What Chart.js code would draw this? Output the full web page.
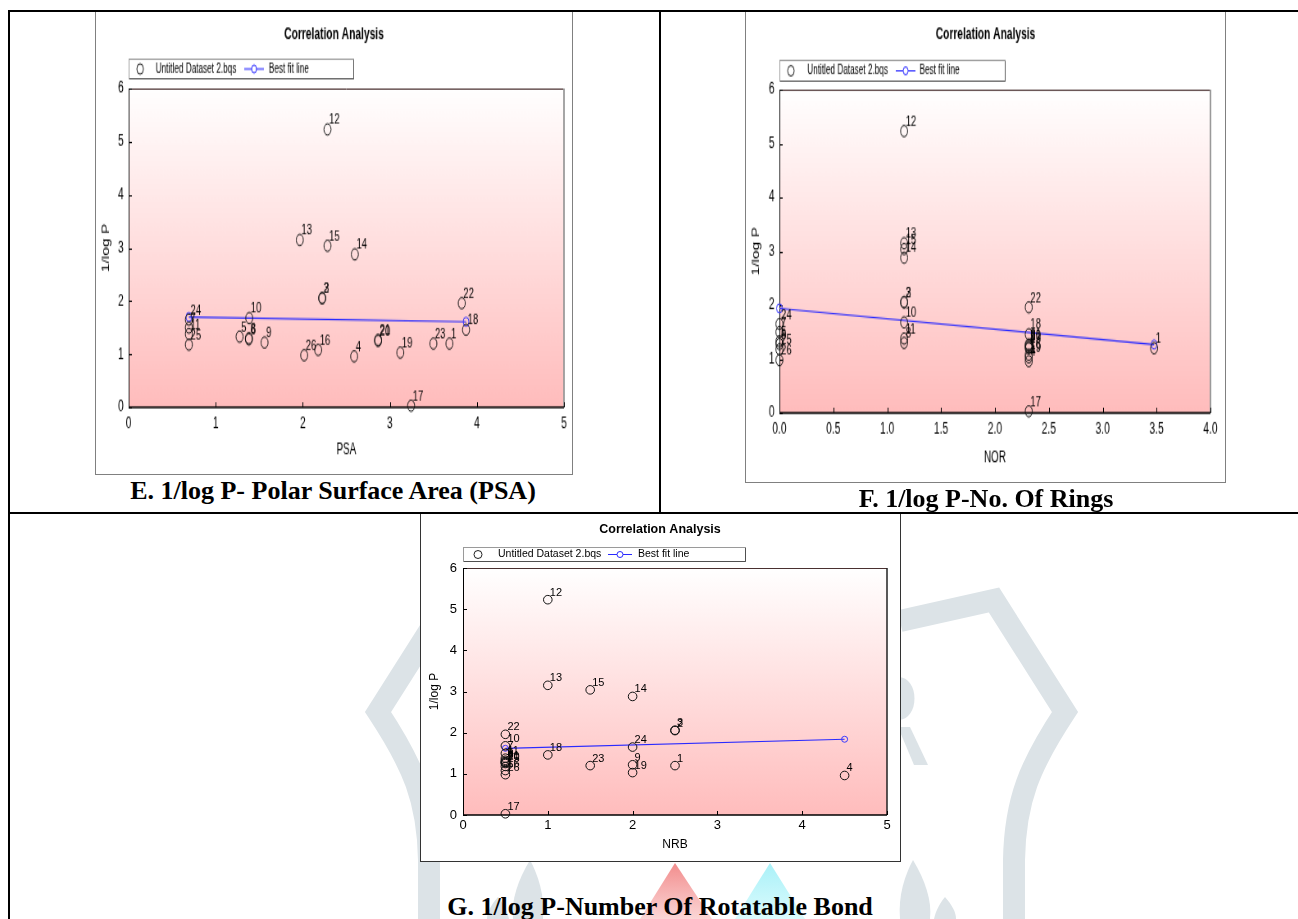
<!DOCTYPE html>
<html><head><meta charset="utf-8">
<script src="https://cdn.jsdelivr.net/npm/chart.js@4.4.1/dist/chart.umd.min.js"></script>
<style>
html,body{margin:0;padding:0;background:#fff;}
body{width:1298px;height:919px;position:relative;overflow:hidden;font-family:Arial,"Liberation Sans",sans-serif;}
.abs{position:absolute;}
.line{position:absolute;background:#000;}
.box{position:absolute;background:#fff;box-sizing:border-box;}
.wrap{position:absolute;transform-origin:0 0;}
.wrap canvas{display:block;}
.cap{position:absolute;font-family:"Times New Roman","Liberation Serif",serif;font-weight:bold;font-size:26px;line-height:30px;white-space:nowrap;text-align:center;color:#000;width:600px;}
</style></head>
<body>
<svg class="abs" style="left:0;top:0" width="1298" height="919">
  <defs>
    <linearGradient id="pk" x1="0" y1="0" x2="0" y2="1"><stop offset="0" stop-color="#f28d8d"/><stop offset="1" stop-color="#fbd6d6"/></linearGradient>
    <linearGradient id="cy" x1="0" y1="0" x2="0" y2="1"><stop offset="0" stop-color="#a9f1f8"/><stop offset="1" stop-color="#dcfbfd"/></linearGradient>
  </defs>
  <g fill="none" stroke="#dce3e7" stroke-width="22">
    <path d="M 900 621 L 994 600 L 1065 712 C 1030 765 1015 800 1014 860 L 1014 925"/>
    <path d="M 543 621 L 449 600 L 378 712 C 413 765 428 800 429 860 L 429 925"/>
  </g>
  <g fill="#dce3e7">
    <path d="M 898 677 C 920 677 920 720 898 720 Z"/>
    <path d="M 898 727 L 910 727 L 928 765 L 914 765 Z"/>
    <path d="M 913 860 C 925 880 932 900 930 919 L 900 919 C 898 895 905 875 913 860 Z"/>
    <path d="M 945 897 C 952 905 956 912 956 919 L 934 919 C 936 910 940 903 945 897 Z"/>
    <path d="M 530 860 C 518 880 511 900 513 919 L 543 919 C 545 895 538 875 530 860 Z"/>
    <path d="M 498 897 C 491 905 487 912 487 919 L 509 919 C 507 910 503 903 498 897 Z"/>
  </g>
  <path d="M 675 863 L 712 919 L 640 919 Z" fill="url(#pk)"/>
  <path d="M 770 863 L 805 919 L 735 919 Z" fill="url(#cy)"/>
</svg>

<div class="line" style="left:8px;top:10px;width:1290px;height:2px;"></div>
<div class="line" style="left:8px;top:10px;width:2px;height:909px;"></div>
<div class="line" style="left:659px;top:10px;width:2px;height:503px;"></div>
<div class="line" style="left:8px;top:512px;width:1290px;height:2px;"></div>

<div class="box" style="left:95px;top:12px;width:478px;height:463px;border:1px solid #808080;border-top:none;"></div>
<div class="box" style="left:745px;top:12px;width:481px;height:471px;border:1px solid #808080;border-top:none;"></div>
<div class="box" style="left:420px;top:514px;width:481px;height:348px;border:1px solid #333;border-top:none;"></div>

<div class="wrap" id="wE" style="left:95px;top:13px;"><canvas id="cE"></canvas></div>
<div class="wrap" id="wF" style="left:745px;top:13px;"><canvas id="cF"></canvas></div>
<div class="wrap" id="wG" style="left:420px;top:513px;"><canvas id="cG"></canvas></div>

<div class="cap" style="left:33px;top:476px;">E. 1/log P- Polar Surface Area (PSA)</div>
<div class="cap" style="left:686px;top:484px;">F. 1/log P-No. Of Rings</div>
<div class="cap" style="left:360px;top:892px;">G. 1/log P-Number Of Rotatable Bond</div>

<script>
// ---------- data ----------
const compoundIds = ['1','2','3','4','5','6','7','8','9','10','11','12','13','14','15','16','17','18','19','20','21','22','23','24','25','26'];
const invLogP = [1.20, 2.05, 2.06, 0.96, 1.33, 1.28, 1.50, 1.30, 1.22, 1.68, 1.38, 5.23, 3.15, 2.88, 3.04, 1.08, 0.03, 1.46, 1.03, 1.25, 1.27, 1.96, 1.20, 1.65, 1.18, 0.98];
const psa = [3.684, 2.223, 2.223, 2.590, 1.274, 1.381, 0.692, 1.381, 1.561, 1.385, 0.692, 2.284, 1.966, 2.598, 2.284, 2.177, 3.244, 3.875, 3.120, 2.865, 2.865, 3.826, 3.500, 0.692, 0.692, 2.016];
const nor = [3.477, 1.157, 1.157, 2.314, 0, 0, 0, 1.157, 2.314, 1.157, 1.157, 1.157, 1.157, 1.157, 1.157, 2.314, 2.314, 2.314, 2.314, 2.314, 2.314, 2.314, 2.314, 0, 0, 0];
const nrb = [2.5, 2.5, 2.5, 4.5, 0.5, 0.5, 0.5, 0.5, 2.0, 0.5, 0.5, 1.0, 1.0, 2.0, 1.5, 0.5, 0.5, 1.0, 2.0, 0.5, 0.5, 0.5, 1.5, 2.0, 0.5, 0.5];
const psaFitX = [0.692, 3.875], psaFitY = [1.70, 1.61];
const norFitX = [0, 3.477],     norFitY = [1.94, 1.27];
const nrbFitX = [0.5, 4.5],     nrbFitY = [1.62, 1.84];
const yTickLabels = ['0','1','2','3','4','5','6'];
const psaTickLabels = ['0','1','2','3','4','5'];
const norTickLabels = ['0.0','0.5','1.0','1.5','2.0','2.5','3.0','3.5','4.0'];
const nrbTickLabels = ['0','1','2','3','4','5'];
const chartTitle = 'Correlation Analysis';
const legendLabels = ['Untitled Dataset 2.bqs', 'Best fit line'];
const yTitle = '1/log P';

const FAM = 'Arial, "Liberation Sans", sans-serif';

const deco = {
  id: 'deco',
  beforeDraw(chart, args, o) {
    const {ctx, chartArea: a} = chart;
    ctx.save();
    const g = ctx.createLinearGradient(0, a.top, 0, a.bottom);
    g.addColorStop(0, '#ffffff');
    g.addColorStop(1, '#ffbcbc');
    ctx.fillStyle = g;
    ctx.fillRect(a.left, a.top, a.right - a.left, a.bottom - a.top);
    ctx.restore();
  },
  beforeDatasetsDraw(chart, args, o) {
    const {ctx, chartArea: a, scales} = chart;
    ctx.save();
    ctx.lineWidth = 1;
    ctx.strokeStyle = '#4a3030';
    ctx.beginPath(); ctx.moveTo(a.left, a.top + 0.5); ctx.lineTo(a.right, a.top + 0.5); ctx.stroke();
    ctx.strokeStyle = o.rightColor; ctx.lineWidth = o.rightWidth;
    ctx.beginPath(); ctx.moveTo(a.right, a.top); ctx.lineTo(a.right, a.bottom); ctx.stroke();
    ctx.strokeStyle = '#000'; ctx.lineWidth = 1;
    ctx.beginPath(); ctx.moveTo(a.left + 0.5, a.top); ctx.lineTo(a.left + 0.5, a.bottom + 1); ctx.stroke();
    ctx.lineWidth = 1.5;
    ctx.beginPath(); ctx.moveTo(a.left, a.bottom); ctx.lineTo(a.right, a.bottom); ctx.stroke();
    ctx.lineWidth = 1;
    scales.x.ticks.forEach(t => {
      const px = Math.round(scales.x.getPixelForValue(t.value)) + 0.5;
      ctx.beginPath(); ctx.moveTo(px, a.bottom); ctx.lineTo(px, a.bottom - 4); ctx.stroke();
    });
    scales.y.ticks.forEach(t => {
      const py = Math.round(scales.y.getPixelForValue(t.value)) + 0.5;
      ctx.beginPath(); ctx.moveTo(a.left, py); ctx.lineTo(a.left + 4, py); ctx.stroke();
    });
    ctx.restore();
  },
  afterDatasetsDraw(chart, args, o) {
    const {ctx} = chart;
    const meta = chart.getDatasetMeta(0);
    ctx.save();
    ctx.fillStyle = '#000';
    ctx.font = o.labelFont + 'px ' + FAM;
    ctx.textAlign = 'left';
    ctx.textBaseline = 'alphabetic';
    meta.data.forEach((pt, i) => {
      ctx.fillText(o.ids[i], pt.x + 2, pt.y - 4);
    });
    ctx.restore();
  },
  afterDraw(chart, args, o) {
    const {ctx, chartArea: a, width} = chart;
    ctx.save();
    ctx.fillStyle = '#000';
    ctx.font = 'bold 12.5px ' + FAM;
    ctx.textAlign = 'center'; ctx.textBaseline = 'middle';
    ctx.fillText(chartTitle, width / 2, o.titleY);
    ctx.font = o.axisFont + 'px ' + FAM;
    ctx.fillText(o.xTitle, (a.left + a.right) / 2, o.xTitleY);
    ctx.save();
    ctx.translate(o.yTitleX, (a.top + a.bottom) / 2);
    ctx.rotate(-Math.PI / 2);
    ctx.fillText(yTitle, 0, 0);
    ctx.restore();
    const L = o.legend;
    ctx.fillStyle = '#fff';
    ctx.fillRect(L.x0, L.y0, L.x1 - L.x0, L.y1 - L.y0);
    ctx.lineWidth = 1;
    ctx.strokeStyle = '#9a9a9a';
    ctx.strokeRect(L.x0 + 0.5, L.y0 + 0.5, L.x1 - L.x0 - 1, L.y1 - L.y0 - 1);
    ctx.strokeStyle = '#505050';
    ctx.beginPath(); ctx.moveTo(L.x0 + 1, L.y1 - 0.5); ctx.lineTo(L.x1 - 0.5, L.y1 - 0.5); ctx.lineTo(L.x1 - 0.5, L.y0 + 1); ctx.stroke();
    const cy = (L.y0 + L.y1) / 2;
    ctx.strokeStyle = '#222';
    ctx.beginPath(); ctx.arc(L.c1, cy, 4, 0, Math.PI * 2); ctx.stroke();
    ctx.fillStyle = '#000';
    ctx.font = o.legendFont + 'px ' + FAM;
    ctx.textAlign = 'left'; ctx.textBaseline = 'middle';
    ctx.fillText(legendLabels[0], L.t1, cy);
    ctx.fillText(legendLabels[1], L.t2, cy);
    ctx.strokeStyle = '#2a2aff';
    ctx.beginPath(); ctx.moveTo(L.l0, cy); ctx.lineTo(L.l1, cy); ctx.stroke();
    ctx.fillStyle = '#fff';
    ctx.beginPath(); ctx.arc((L.l0 + L.l1) / 2, cy, 3, 0, Math.PI * 2); ctx.fill(); ctx.stroke();
    ctx.restore();
  }
};

function makeChart(c) {
  const wrap = document.getElementById(c.wrap);
  const canvas = document.getElementById(c.canvas);
  canvas.width = c.W; canvas.height = c.H;
  wrap.style.width = c.W + 'px'; wrap.style.height = c.H + 'px';
  wrap.style.transform = 'scale(' + c.sx + ',' + c.sy + ')';
  return new Chart(canvas, {
    type: 'scatter',
    data: {
      datasets: [
        {
          label: legendLabels[0],
          data: c.xs.map((x, i) => ({x: x, y: invLogP[i]})),
          showLine: false,
          pointStyle: 'circle',
          pointRadius: c.ptR, pointHoverRadius: c.ptR,
          pointBorderWidth: 1,
          pointBorderColor: '#111',
          pointBackgroundColor: 'rgba(0,0,0,0)',
          clip: false
        },
        {
          label: legendLabels[1],
          data: c.fx.map((x, i) => ({x: x, y: c.fy[i]})),
          showLine: true,
          borderColor: '#2a2aff',
          borderWidth: 1.2,
          pointRadius: c.fitR, pointHoverRadius: c.fitR,
          pointBorderWidth: 1,
          pointBorderColor: '#3a3aff',
          pointBackgroundColor: 'rgba(0,0,0,0)',
          clip: false
        }
      ]
    },
    options: {
      responsive: false,
      animation: false,
      events: [],
      devicePixelRatio: 1,
      layout: {padding: {left: 0, top: c.area.t, right: c.W - c.area.r, bottom: 0}},
      plugins: {
        legend: {display: false},
        title: {display: false},
        tooltip: {enabled: false},
        deco: {
          ids: compoundIds, labelFont: c.labelFont, legendFont: c.legendFont, axisFont: c.axisFont,
          titleY: c.titleY, xTitle: c.xTitle, xTitleY: c.xTitleY, yTitleX: c.yTitleX,
          legend: c.legend, rightColor: c.rightColor, rightWidth: c.rightWidth
        }
      },
      scales: {
        x: {
          type: 'linear', min: 0, max: c.xMax,
          grid: {display: false, drawTicks: false},
          border: {display: false},
          ticks: {
            stepSize: c.xStep, autoSkip: false, maxRotation: 0, padding: c.xPad,
            color: '#000', font: {family: FAM, size: c.tickFont},
            callback: (v) => c.xLabels[Math.round(v / c.xStep)]
          },
          afterFit: (s) => { s.height = c.H - c.area.b; }
        },
        y: {
          type: 'linear', min: 0, max: 6,
          grid: {display: false, drawTicks: false},
          border: {display: false},
          ticks: {
            stepSize: 1, autoSkip: false, padding: 6,
            color: '#000', font: {family: FAM, size: c.tickFont},
            callback: (v) => yTickLabels[Math.round(v)]
          },
          afterFit: (s) => { s.width = c.area.l; }
        }
      }
    },
    plugins: [deco]
  });
}

makeChart({
  wrap: 'wE', canvas: 'cE', W: 583, H: 355, sx: 478 / 583, sy: 462 / 355,
  area: {l: 41, t: 58, r: 572, b: 303},
  xs: psa, fx: psaFitX, fy: psaFitY, fitR: 3.5, ptR: 4.3,
  xMax: 5, xStep: 1, xLabels: psaTickLabels, xPad: 5, tickFont: 12.5,
  labelFont: 11.5, legendFont: 10, axisFont: 12,
  titleY: 17, xTitle: 'PSA', xTitleY: 336, yTitleX: 13.5,
  legend: {x0: 41, y0: 35, x1: 316, y1: 51, c1: 55, t1: 74, l0: 182, l1: 206, t2: 212},
  rightColor: '#9a9a9a', rightWidth: 2
});
makeChart({
  wrap: 'wF', canvas: 'cF', W: 587, H: 362, sx: 481 / 587, sy: 470 / 362,
  area: {l: 42, t: 59, r: 568, b: 308},
  xs: nor, fx: norFitX, fy: norFitY, fitR: 3.5, ptR: 4.3,
  xMax: 4, xStep: 0.5, xLabels: norTickLabels, xPad: 5, tickFont: 12.5,
  labelFont: 11.5, legendFont: 10, axisFont: 12,
  titleY: 17, xTitle: 'NOR', xTitleY: 343, yTitleX: 14,
  legend: {x0: 42, y0: 36, x1: 318, y1: 53, c1: 56, t1: 76, l0: 184, l1: 208, t2: 213},
  rightColor: '#9a9a9a', rightWidth: 2
});
makeChart({
  wrap: 'wG', canvas: 'cG', W: 480, H: 348, sx: 1, sy: 1,
  area: {l: 43, t: 55, r: 467, b: 302},
  xs: nrb, fx: nrbFitX, fy: nrbFitY, fitR: 3, ptR: 4.3,
  xMax: 5, xStep: 1, xLabels: nrbTickLabels, xPad: 3, tickFont: 13,
  labelFont: 11, legendFont: 10.5, axisFont: 12,
  titleY: 17, xTitle: 'NRB', xTitleY: 332, yTitleX: 15,
  legend: {x0: 43, y0: 34, x1: 326, y1: 49, c1: 58, t1: 78, l0: 188, l1: 212, t2: 218},
  rightColor: '#222', rightWidth: 1.5
});
</script>
</body></html>
